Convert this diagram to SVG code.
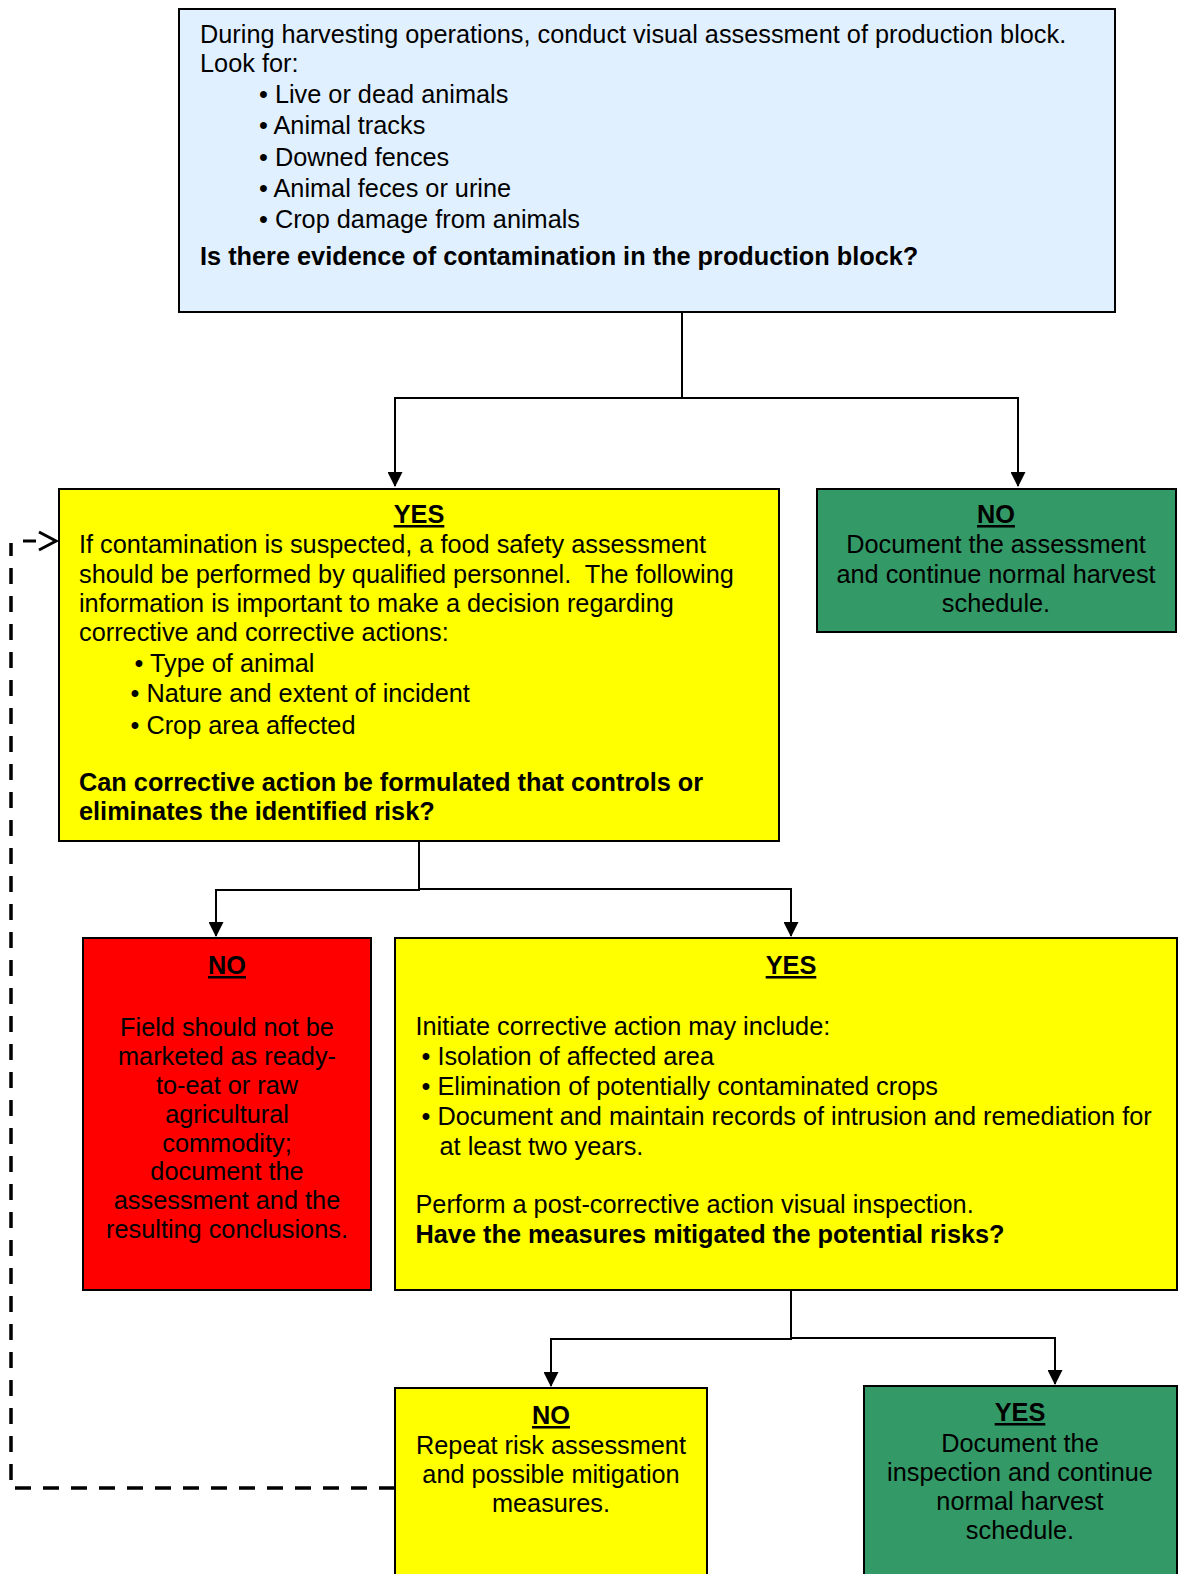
<svg xmlns="http://www.w3.org/2000/svg" width="1178" height="1574" viewBox="0 0 1178 1574">
<style>
text{font-family:"Liberation Sans",Arial,sans-serif;font-size:25.3px;fill:#000;white-space:pre}
.b{font-weight:bold}
.u{font-weight:bold;text-decoration:underline}
.c{text-anchor:middle}
.box{stroke:#000;stroke-width:2}
.blue{fill:#E1F0FF}
.yel{fill:#FFFF00}
.grn{fill:#339966}
.red{fill:#FF0000}
.ln{fill:none;stroke:#000;stroke-width:2}
.dash{fill:none;stroke:#000;stroke-width:3.5;stroke-dasharray:16 12}
</style>
<defs>
<marker id="ah" markerWidth="16" markerHeight="15" refX="15" refY="8" orient="auto" markerUnits="userSpaceOnUse" viewBox="0 0 16 16">
<path d="M0,0 L16,8 L0,16 Z" fill="#000"/>
</marker>
</defs>
<rect width="1178" height="1574" fill="#fff"/>
<g id="connectors">
<path class="ln" d="M682,312 V398 H395 V486" marker-end="url(#ah)"/>
<path class="ln" d="M682,398 H1018 V486" marker-end="url(#ah)"/>
<path class="ln" d="M419,841 V890 H216 V936" marker-end="url(#ah)"/>
<path class="ln" d="M419,889 H791 V936" marker-end="url(#ah)"/>
<path class="ln" d="M791,1290 V1339 H551 V1386" marker-end="url(#ah)"/>
<path class="ln" d="M791,1338 H1055 V1384" marker-end="url(#ah)"/>
<path class="dash" d="M395,1488 H11 V543"/>
<path d="M23,541 H36" stroke="#000" stroke-width="3"/>
<path d="M39,532 L56,541 L39,550" fill="none" stroke="#000" stroke-width="3"/>
</g>
<g id="start">
<rect class="box blue" x="179" y="9" width="936" height="303"/>
<text x="200" y="43">During harvesting operations, conduct visual assessment of production block.</text>
<text x="200" y="72">Look for:</text>
<text x="259" y="103">• Live or dead animals</text>
<text x="259" y="134">• Animal tracks</text>
<text x="259" y="165.5">• Downed fences</text>
<text x="259" y="196.5">• Animal feces or urine</text>
<text x="259" y="227.5">• Crop damage from animals</text>
<text class="b" x="200" y="265">Is there evidence of contamination in the production block?</text>
</g>
<g id="yes1">
<rect class="box yel" x="59" y="489" width="720" height="352"/>
<text class="u c" x="419" y="523">YES</text>
<text x="79" y="553">If contamination is suspected, a food safety assessment</text>
<text x="79" y="583">should be performed by qualified personnel.  The following</text>
<text x="79" y="612">information is important to make a decision regarding</text>
<text x="79" y="641">corrective and corrective actions:</text>
<text x="134.5" y="672">• Type of animal</text>
<text x="130.5" y="702">• Nature and extent of incident</text>
<text x="130.5" y="733.5">• Crop area affected</text>
<text class="b" x="79" y="790.5">Can corrective action be formulated that controls or</text>
<text class="b" x="79" y="819.7">eliminates the identified risk?</text>
</g>
<g id="no1">
<rect class="box grn" x="817" y="489" width="359" height="143"/>
<text class="u c" x="996" y="523">NO</text>
<text class="c" x="996" y="553">Document the assessment</text>
<text class="c" x="996" y="583">and continue normal harvest</text>
<text class="c" x="996" y="612">schedule.</text>
</g>
<g id="no2">
<rect class="box red" x="83" y="938" width="288" height="352"/>
<text class="u c" x="227" y="974">NO</text>
<text class="c" x="227" y="1035.5">Field should not be</text>
<text class="c" x="227" y="1064.6">marketed as ready-</text>
<text class="c" x="227" y="1093.7">to-eat or raw</text>
<text class="c" x="227" y="1122.8">agricultural</text>
<text class="c" x="227" y="1151.9">commodity;</text>
<text class="c" x="227" y="1180">document the</text>
<text class="c" x="227" y="1209">assessment and the</text>
<text class="c" x="227" y="1238">resulting conclusions.</text>
</g>
<g id="yes2">
<rect class="box yel" x="395" y="938" width="782" height="352"/>
<text class="u c" x="791" y="974">YES</text>
<text x="415.5" y="1034.5">Initiate corrective action may include:</text>
<text x="421.5" y="1064.6">• Isolation of affected area</text>
<text x="421.5" y="1094.7">• Elimination of potentially contaminated crops</text>
<text x="421.5" y="1124.8">• Document and maintain records of intrusion and remediation for</text>
<text x="439.5" y="1154.9">at least two years.</text>
<text x="415.5" y="1213">Perform a post-corrective action visual inspection.</text>
<text class="b" x="415.5" y="1243">Have the measures mitigated the potential risks?</text>
</g>
<g id="no3">
<rect class="box yel" x="395" y="1388" width="312" height="200"/>
<text class="u c" x="551" y="1424">NO</text>
<text class="c" x="551" y="1454">Repeat risk assessment</text>
<text class="c" x="551" y="1483">and possible mitigation</text>
<text class="c" x="551" y="1512">measures.</text>
</g>
<g id="yes3">
<rect class="box grn" x="864" y="1386" width="313" height="200"/>
<text class="u c" x="1020" y="1421">YES</text>
<text class="c" x="1020" y="1452">Document the</text>
<text class="c" x="1020" y="1481">inspection and continue</text>
<text class="c" x="1020" y="1510">normal harvest</text>
<text class="c" x="1020" y="1539">schedule.</text>
</g>
</svg>
